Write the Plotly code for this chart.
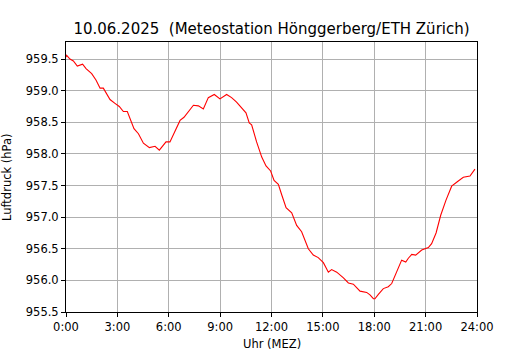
import plotly.graph_objects as go

# Readings (hour of day, pressure in hPa)
hours = [0.0, 0.04, 0.23, 0.43, 0.66, 0.97, 1.17, 1.50, 1.75, 1.99, 2.18, 2.57, 2.86, 3.11, 3.35, 3.58,
         3.97, 4.23, 4.52, 4.87, 5.20, 5.45, 5.84, 6.07, 6.66, 6.89, 7.44, 7.73, 8.02, 8.31, 8.66,
         8.99, 9.38, 9.67, 9.96, 10.26, 10.51, 10.70, 10.84, 11.13, 11.43, 11.68, 11.95, 12.15,
         12.40, 12.60, 12.85, 13.18, 13.47, 13.76, 14.15, 14.44, 14.73, 15.03, 15.32, 15.51,
         15.81, 16.20, 16.49, 16.78, 17.17, 17.56, 17.75, 17.95, 18.04, 18.24, 18.53, 18.82,
         19.02, 19.60, 19.84, 19.99, 20.19, 20.42, 20.77, 21.16, 21.35, 21.61, 21.88, 22.19,
         22.52, 22.85, 23.20, 23.59, 23.88]
pressure = [959.53, 959.56, 959.50, 959.47, 959.39, 959.42, 959.35, 959.27, 959.17, 959.04, 959.04,
            958.86, 958.80, 958.75, 958.67, 958.67, 958.40, 958.32, 958.17, 958.10, 958.12, 958.06,
            958.19, 958.19, 958.53, 958.58, 958.77, 958.76, 958.71, 958.89, 958.94, 958.87, 958.94,
            958.89, 958.82, 958.72, 958.65, 958.49, 958.46, 958.19, 957.95, 957.81, 957.73, 957.58,
            957.52, 957.35, 957.15, 957.07, 956.87, 956.77, 956.50, 956.40, 956.36, 956.28, 956.13,
            956.17, 956.13, 956.04, 955.96, 955.94, 955.83, 955.81, 955.77, 955.71, 955.71, 955.78,
            955.87, 955.90, 955.95, 956.32, 956.29, 956.35, 956.41, 956.40, 956.48, 956.52, 956.58,
            956.75, 957.03, 957.27, 957.49, 957.56, 957.63, 957.65, 957.76]

x_tickvals = [0, 3, 6, 9, 12, 15, 18, 21, 24]
x_ticktext = ["0:00", "3:00", "6:00", "9:00", "12:00", "15:00", "18:00", "21:00", "24:00"]
y_tickvals = [955.5, 956.0, 956.5, 957.0, 957.5, 958.0, 958.5, 959.0, 959.5]

title_text = "10.06.2025  (Meteostation Hönggerberg/ETH Zürich)"
x_title = "Uhr (MEZ)"
y_title = "Luftdruck (hPa)"

font = "DejaVu Sans"
W, H = 530, 350
L, R, T, B = 66, 53, 42, 38

fig = go.Figure()
fig.add_trace(go.Scatter(x=hours, y=pressure, mode="lines",
                         line=dict(color="#ff0000", width=1.1), showlegend=False))

axis_common = dict(showline=True, linecolor="black", linewidth=1, mirror=True,
                   ticks="outside", ticklen=4, tickcolor="black", tickwidth=1,
                   showgrid=True, gridcolor="#b0b0b0", gridwidth=1, zeroline=False,
                   automargin=False,
                   tickfont=dict(family=font, size=11.5, color="black"))

fig.update_layout(
    width=W, height=H,
    margin=dict(l=L, r=R, t=T, b=B, autoexpand=False),
    paper_bgcolor="white", plot_bgcolor="white",
    title=dict(text=title_text, x=0.5, xanchor="center", xref="paper",
               y=1 - 29 / H, yanchor="middle",
               font=dict(family=font, size=15, color="black")),
    xaxis=dict(range=[0, 24], tickvals=x_tickvals, ticktext=x_ticktext, **axis_common),
    yaxis=dict(range=[955.5, 959.77], tickvals=y_tickvals, tickformat=".1f", **axis_common),
    annotations=[
        dict(text=x_title, xref="paper", yref="paper", x=0.5, y=-(344 - (H - B)) / (H - T - B),
             yanchor="middle", xanchor="center", showarrow=False,
             font=dict(family=font, size=11.5, color="black")),
        dict(text=y_title, xref="paper", yref="paper", x=-(L - 7) / (W - L - R), y=0.5,
             xanchor="center", yanchor="middle", textangle=-90, showarrow=False,
             font=dict(family=font, size=11.5, color="black")),
    ],
)

fig.write_html("out.html", config={"displayModeBar": False},
               post_script="document.body.style.margin='0';document.body.style.overflow='hidden';")
